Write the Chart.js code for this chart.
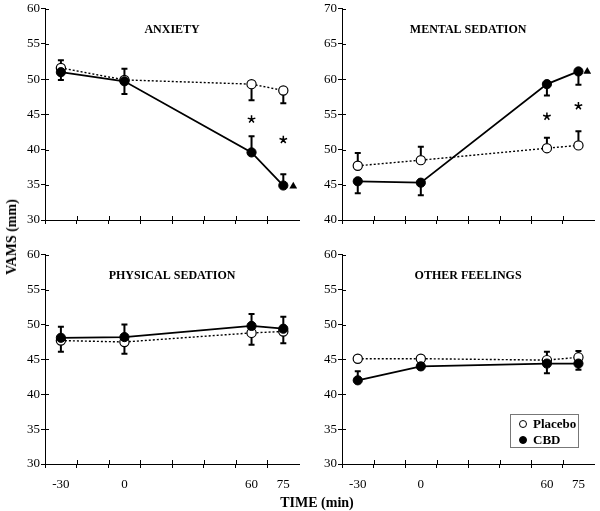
<!DOCTYPE html>
<html>
<head>
<meta charset="utf-8">
<script src="https://cdn.jsdelivr.net/npm/chart.js@4.4.1/dist/chart.umd.min.js"></script>
<style>
    body { margin: 0; background: #fff; }
    #wrap { position: relative; width: 600px; height: 511px; overflow: hidden; font-family: "Liberation Serif", serif; color: #000; }
    #wrap canvas { position: absolute; }
    .axisLabel { position: absolute; font-weight: bold; font-size: 14px; white-space: nowrap; }
    #legendBox { position: absolute; left: 510px; top: 414px; width: 67px; height: 32px; border: 1px solid #777; font-weight: bold; font-size: 13px; }
    .legRow { position: absolute; left: 0; height: 16px; line-height: 16px; }
    .dot { position: absolute; left: 8px; top: 4px; width: 8px; height: 8px; border-radius: 50%; border: 1px solid #000; box-sizing: border-box; }
    .legText { position: absolute; left: 22px; top: 0; }
</style>
</head>
<body>
<div id="wrap">
    <canvas id="anxietyChart" width="305" height="240" style="left:0;top:0"></canvas>
    <canvas id="mentalChart" width="303" height="240" style="left:297px;top:0"></canvas>
    <canvas id="physicalChart" width="305" height="265" style="left:0;top:246px"></canvas>
    <canvas id="otherChart" width="303" height="265" style="left:297px;top:246px"></canvas>

    <div class="axisLabel" style="left:12px;top:237px;transform:translate(-50%,-50%) rotate(-90deg);">VAMS (mm)</div>
    <div class="axisLabel" style="left:317px;top:503px;transform:translate(-50%,-50%);">TIME (min)</div>

    <div id="legendBox">
        <div class="legRow" style="top:1px"><span class="dot" style="background:#fff"></span><span class="legText">Placebo</span></div>
        <div class="legRow" style="top:17px"><span class="dot" style="background:#000"></span><span class="legText">CBD</span></div>
    </div>
</div>

<script>
// Время измерений (мин) и деления оси X
const times = [-30, 0, 60, 75];
const xTickMarks = [-37.5, -22.5, -7.5, 7.5, 22.5, 37.5, 52.5, 67.5];

// ANXIETY
const anxietyPlacebo = [51.6, 49.9, 49.3, 48.4];
const anxietyPlaceboErr = [1.1, 1.6, -2.3, -1.8];
const anxietyCBD = [51.0, 49.7, 39.6, 34.9];
const anxietyCBDErr = [-1.1, -1.8, 2.3, 1.6];
const anxietyStarX = [60, 75];
const anxietyStarY = [44.3, 41.4];
const anxietyTriX = [79.7];
const anxietyTriY = [34.8];

// MENTAL SEDATION
const mentalPlacebo = [47.7, 48.5, 50.2, 50.6];
const mentalPlaceboErr = [1.8, 1.9, 1.5, 2.0];
const mentalCBD = [45.5, 45.3, 59.3, 61.1];
const mentalCBDErr = [-1.7, -1.8, -1.6, -1.9];
const mentalStarX = [60, 75];
const mentalStarY = [54.7, 56.2];
const mentalTriX = [79.2];
const mentalTriY = [61.1];

// PHYSICAL SEDATION
const physicalPlacebo = [47.7, 47.5, 48.8, 49.0];
const physicalPlaceboErr = [-1.6, -1.7, -1.7, -1.7];
const physicalCBD = [48.1, 48.2, 49.8, 49.4];
const physicalCBDErr = [1.6, 1.8, 1.7, 1.7];

// OTHER FEELINGS
const otherPlacebo = [45.1, 45.1, 44.9, 45.3];
const otherPlaceboErr = [0.3, 0.3, 1.2, 0.9];
const otherCBD = [42.0, 44.0, 44.4, 44.4];
const otherCBDErr = [1.3, -0.3, -1.4, -0.9];

const serif = '"Liberation Serif", serif';

// Планки погрешностей, звёздочки, заголовки и подписи оси X
const panelExtras = {
    id: 'panelExtras',
    beforeDatasetsDraw(chart) {
        const ctx = chart.ctx;
        const xs = chart.scales.x, ys = chart.scales.y;
        ctx.save();
        ctx.strokeStyle = '#000';
        ctx.lineWidth = 2;
        chart.data.datasets.forEach(ds => {
            if (!ds.errorBars) return;
            ds.data.forEach((p, i) => {
                const x = xs.getPixelForValue(p.x);
                const y0 = ys.getPixelForValue(p.y);
                const y1 = ys.getPixelForValue(p.y + ds.errorBars[i]);
                ctx.beginPath();
                ctx.moveTo(x, y0);
                ctx.lineTo(x, y1);
                ctx.moveTo(x - 3, y1);
                ctx.lineTo(x + 3, y1);
                ctx.stroke();
            });
        });
        ctx.restore();
    },
    afterDraw(chart) {
        const ctx = chart.ctx;
        const xs = chart.scales.x, ys = chart.scales.y;
        const area = chart.chartArea;
        const cfg = chart.options.plugins.panelExtras;
        ctx.save();
        ctx.strokeStyle = '#000';
        ctx.lineWidth = 1;
        // внутренние половинки делений
        ctx.beginPath();
        xs.ticks.forEach(t => {
            const x = Math.round(xs.getPixelForValue(t.value)) + 0.5;
            ctx.moveTo(x, area.bottom);
            ctx.lineTo(x, area.bottom - 4);
        });
        ys.ticks.forEach(t => {
            const y = Math.round(ys.getPixelForValue(t.value)) + 0.5;
            ctx.moveTo(area.left, y);
            ctx.lineTo(area.left + 4, y);
        });
        ctx.stroke();

        // заголовок панели
        ctx.fillStyle = '#000';
        ctx.font = 'bold 12px ' + serif;
        ctx.textAlign = 'center';
        ctx.textBaseline = 'middle';
        ctx.fillText(cfg.title, (area.left + area.right) / 2, area.top + 21);

        // звёздочки
        ctx.lineWidth = 1.5;
        (cfg.starX || []).forEach((sx, i) => {
            const cx = xs.getPixelForValue(sx);
            const cy = ys.getPixelForValue(cfg.starY[i]);
            ctx.beginPath();
            for (let k = 0; k < 5; k++) {
                const a = -Math.PI / 2 + k * 2 * Math.PI / 5;
                ctx.moveTo(cx, cy);
                ctx.lineTo(cx + 4 * Math.cos(a), cy + 4 * Math.sin(a));
            }
            ctx.stroke();
        });

        // подписи времени
        if (cfg.timeLabels) {
            ctx.font = '13px ' + serif;
            times.forEach(t => {
                ctx.fillText(String(t), xs.getPixelForValue(t), area.bottom + 21);
            });
        }
        ctx.restore();
    }
};

function makePanel(canvasId, opts) {
    const datasets = [{
        label: 'CBD',
        data: times.map((t, i) => ({ x: t, y: opts.cbd[i] })),
        errorBars: opts.cbdErr,
        borderColor: '#000',
        borderWidth: 1.8,
        pointRadius: 4.6,
        pointBackgroundColor: '#000',
        pointBorderColor: '#000',
        pointBorderWidth: 1
    }, {
        label: 'Placebo',
        data: times.map((t, i) => ({ x: t, y: opts.placebo[i] })),
        errorBars: opts.placeboErr,
        borderColor: '#000',
        borderWidth: 1.4,
        borderDash: [2, 2],
        pointRadius: 4.6,
        pointBackgroundColor: '#fff',
        pointBorderColor: '#000',
        pointBorderWidth: 1.2
    }];
    if (opts.triX) {
        datasets.push({
            label: 'p',
            data: opts.triX.map((x, i) => ({ x: x, y: opts.triY[i] })),
            showLine: false,
            pointStyle: 'triangle',
            pointRadius: 4.5,
            pointBackgroundColor: '#000',
            pointBorderColor: '#000',
            pointBorderWidth: 0
        });
    }

    const axisGrid = {
        display: true,
        drawOnChartArea: false,
        drawTicks: true,
        tickLength: 4,
        color: '#000',
        lineWidth: 1
    };

    new Chart(document.getElementById(canvasId), {
        type: 'line',
        data: { datasets: datasets },
        options: {
            responsive: false,
            animation: false,
            layout: { padding: { top: 6, right: opts.padRight, left: 0, bottom: 0 } },
            plugins: {
                legend: { display: false },
                tooltip: { enabled: false },
                panelExtras: {
                    title: opts.title,
                    starX: opts.starX,
                    starY: opts.starY,
                    timeLabels: opts.timeLabels
                }
            },
            scales: {
                x: {
                    type: 'linear',
                    min: -37.5,
                    max: 82.5,
                    afterBuildTicks: s => { s.ticks = xTickMarks.map(v => ({ value: v })); },
                    afterFit: s => { s.height = opts.xAxisHeight; },
                    ticks: { display: false },
                    grid: axisGrid,
                    border: { display: true, color: '#000', width: 1 }
                },
                y: {
                    min: opts.yMin,
                    max: opts.yMax,
                    afterFit: s => { s.width = 45; },
                    ticks: {
                        stepSize: 5,
                        color: '#000',
                        padding: 1,
                        font: { family: serif, size: 13 }
                    },
                    grid: axisGrid,
                    border: { display: true, color: '#000', width: 1 }
                }
            }
        },
        plugins: [panelExtras]
    });
}

makePanel('anxietyChart', {
    title: 'ANXIETY', yMin: 30, yMax: 60,
    cbd: anxietyCBD, cbdErr: anxietyCBDErr,
    placebo: anxietyPlacebo, placeboErr: anxietyPlaceboErr,
    starX: anxietyStarX, starY: anxietyStarY,
    triX: anxietyTriX, triY: anxietyTriY,
    xAxisHeight: 20, padRight: 2, timeLabels: false
});

makePanel('mentalChart', {
    title: 'MENTAL SEDATION', yMin: 40, yMax: 70,
    cbd: mentalCBD, cbdErr: mentalCBDErr,
    placebo: mentalPlacebo, placeboErr: mentalPlaceboErr,
    starX: mentalStarX, starY: mentalStarY,
    triX: mentalTriX, triY: mentalTriY,
    xAxisHeight: 20, padRight: 1, timeLabels: false
});

makePanel('physicalChart', {
    title: 'PHYSICAL SEDATION', yMin: 30, yMax: 60,
    cbd: physicalCBD, cbdErr: physicalCBDErr,
    placebo: physicalPlacebo, placeboErr: physicalPlaceboErr,
    xAxisHeight: 47, padRight: 2, timeLabels: true
});

makePanel('otherChart', {
    title: 'OTHER FEELINGS', yMin: 30, yMax: 60,
    cbd: otherCBD, cbdErr: otherCBDErr,
    placebo: otherPlacebo, placeboErr: otherPlaceboErr,
    xAxisHeight: 47, padRight: 1, timeLabels: true
});
</script>
</body>
</html>
